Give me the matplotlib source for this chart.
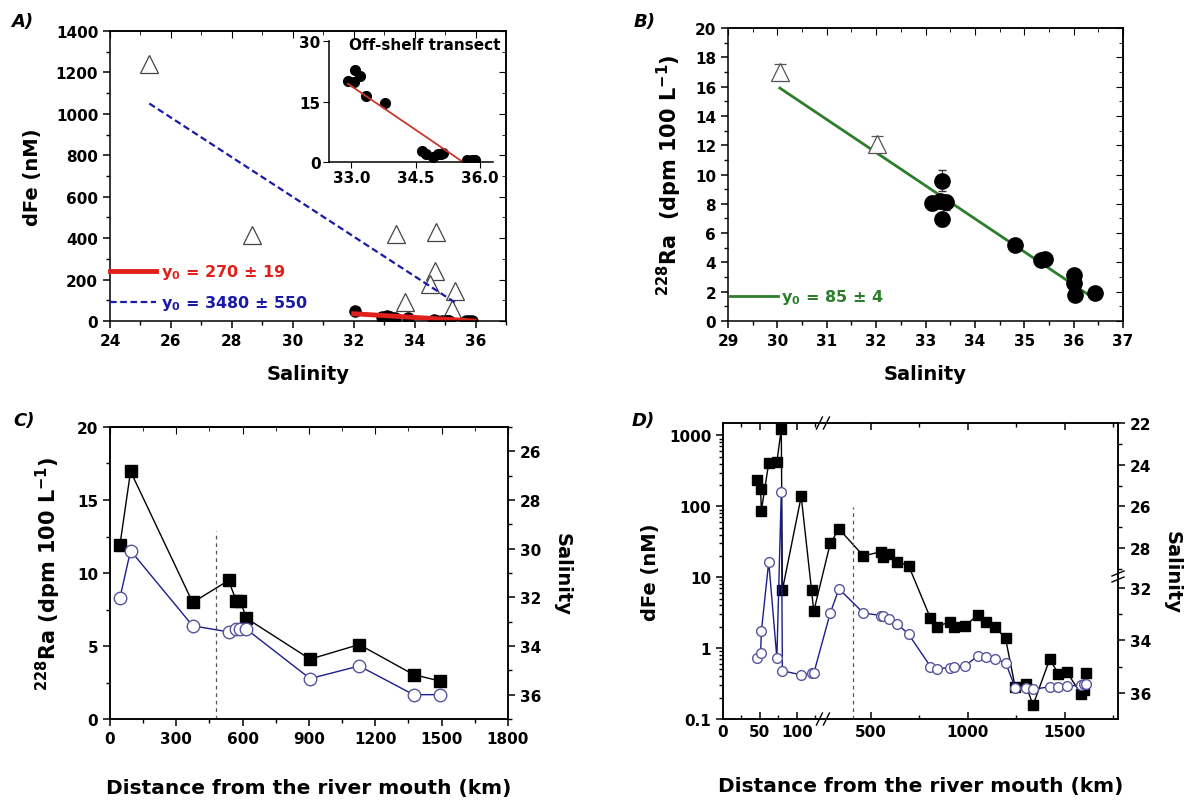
import numpy as np
import matplotlib.pyplot as plt
from matplotlib.ticker import MultipleLocator, FixedLocator, LogLocator, NullFormatter, FuncFormatter

plt.rcParams['font.family'] = ['DejaVu Sans']
plt.rcParams['font.weight'] = 'bold'
plt.rcParams['axes.labelweight'] = 'bold'
plt.rcParams['font.size'] = 11
plt.rcParams['mathtext.default'] = 'bf'
plt.rcParams['axes.linewidth'] = 1.1

# ---------------- data ----------------
# A) dFe vs salinity, shelf (triangles) and off-shelf transect (dots)
a_tri_sal = [25.29, 28.66, 33.39, 34.71, 34.68, 34.51, 33.69, 35.32, 35.23]
a_tri_fe = [1239, 413, 421, 429, 241, 177, 92, 143, 59]
a_off_sal = [32.05, 32.92, 33.06, 33.08, 33.2, 33.35, 33.78, 34.64, 34.75, 34.9,
             35.03, 35.13, 35.08, 35.7, 35.8, 35.88]
a_off_fe = [47, 20.2, 19.8, 22.7, 21.3, 16.4, 14.7, 2.7, 2.0, 1.3,
            2.1, 2.3, 1.9, 0.4, 0.4, 0.6]
a_fit_red_x = [32.0, 35.95]
a_fit_red_y = [35, 0]
a_fit_blue_x = [25.29, 35.34]
a_fit_blue_y = [1050, 88]
a_inset_fit_x = [32.92, 35.6]
a_inset_fit_y = [19.4, 0]

# B) 228Ra vs salinity
b_tri_sal = [30.06, 32.01]
b_tri_ra = [17.03, 12.09]
b_tri_err = [0.5, 0.55]
b_sal = [33.14, 33.33, 33.33, 33.3, 33.42, 34.81, 35.33, 35.42, 36.01, 36.01, 36.03, 36.44]
b_ra = [8.05, 9.58, 6.96, 8.2, 8.1, 5.2, 4.17, 4.22, 3.15, 2.62, 1.8, 1.89]
b_err = [0.5, 0.7, 0.45, 0.5, 0.5, 0.2, 0.2, 0.2, 0.2, 0.2, 0.2, 0.2]
b_fit_x = [30.05, 36.43]
b_fit_y = [15.9, 1.5]

# C) 228Ra and salinity along the shelf
c_dist = [45, 93, 374, 536, 572, 590, 617, 905, 1127, 1373, 1492]
c_ra = [11.93, 16.96, 7.98, 9.49, 8.07, 8.07, 6.9, 4.1, 5.1, 3.04, 2.6]
c_sal = [32.02, 30.08, 33.17, 33.42, 33.31, 33.31, 33.31, 35.34, 34.82, 36.0, 36.0]
c_front_km, c_front_top = 480, 12.9

# D) dFe and salinity along the shelf
d_dist = [46, 51, 52, 62, 73, 79, 80.5, 106, 120, 123,
          291, 336, 462, 555, 562, 592, 636, 695,
          808, 840, 908, 928, 987, 1051, 1096, 1141, 1195,
          1245, 1298, 1337, 1423, 1468, 1512, 1585, 1602, 1612]
d_fe = [237, 173, 87, 411, 421, 1240, 6.6, 138, 6.6, 3.3,
        30, 48, 20, 23, 19.5, 21.5, 16.6, 14.6,
        2.64, 2.0, 2.36, 2.0, 2.07, 2.93, 2.31, 2.0, 1.37,
        0.28, 0.31, 0.157, 0.70, 0.43, 0.455, 0.225, 0.26, 0.45]
d_sal = [34.66, 34.49, 33.66, 28.65, 34.68, 25.3, 35.16, 35.32, 35.26, 35.26,
         32.96, 32.04, 32.96, 33.06, 33.09, 33.19, 33.37, 33.77,
         35.0, 35.09, 35.04, 35.0, 34.97, 34.6, 34.62, 34.72, 34.85,
         35.81, 35.81, 35.87, 35.77, 35.77, 35.75, 35.71, 35.68, 35.68]
d_front_km, d_front_top = 408, 98

# broken-axis mappings for panel D
XB = [-1000, 0, 135, 255, 5000]
XP = [-2220, 0, 300, 302, 302 + 4745 * 0.584]
SB = [0, 22, 29.35, 31.58, 37, 60]
SP = [-22 * 20.72, 0, 152.3, 152.8, 152.8 + 5.42 * 26.08, 152.8 + 28.42 * 26.08]


def x_fwd(x):
    return np.interp(x, XB, XP)


def x_inv(p):
    return np.interp(p, XP, XB)


def s_fwd(s):
    return np.interp(s, SB, SP)


def s_inv(p):
    return np.interp(p, SP, SB)


black = 'black'
navy = '#1c1c8a'
ring = '#56569c'


def mirror(ax, xmaj, xmin, ymaj=None, ymin=None):
    top = ax.secondary_xaxis('top')
    top.xaxis.set_major_locator(MultipleLocator(xmaj))
    top.xaxis.set_minor_locator(MultipleLocator(xmin))
    top.tick_params(which='both', direction='in', labeltop=False)
    top.tick_params(which='major', length=5)
    top.tick_params(which='minor', length=3)
    if ymaj is not None:
        right = ax.secondary_yaxis('right')
        right.yaxis.set_major_locator(MultipleLocator(ymaj))
        right.yaxis.set_minor_locator(MultipleLocator(ymin))
        right.tick_params(which='both', direction='in', labelright=False)
        right.tick_params(which='major', length=5)
        right.tick_params(which='minor', length=3)


def base_ticks(ax):
    ax.tick_params(which='both', direction='out')
    ax.tick_params(which='major', length=5, width=1.1)
    ax.tick_params(which='minor', length=3, width=1)


fig = plt.figure(figsize=(11.92, 8.03), dpi=100)
axA = fig.add_axes([0.09228, 0.59900, 0.33221, 0.36115])
axB = fig.add_axes([0.61074, 0.59900, 0.33138, 0.36488])
axC = fig.add_axes([0.09228, 0.10336, 0.33389, 0.36364])
axD = fig.add_axes([0.60654, 0.10336, 0.33138, 0.36862])
axIn = fig.add_axes([0.27601, 0.79701, 0.13758, 0.15068])

# ---------- A ----------
axA.plot(a_tri_sal, a_tri_fe, ls='none', marker='^', ms=13, mfc='white', mec='#444444', mew=0.9)
blue_line, = axA.plot(a_fit_blue_x, a_fit_blue_y, color='#1a1aa8', lw=1.6, ls=(0, (3, 1.6)),
                      label='y$_0$ = 3480 ± 550')
axA.plot(a_off_sal, a_off_fe, 'o', color=black, ms=8)
red_line, = axA.plot(a_fit_red_x, a_fit_red_y, color='#e0201c', lw=3.5, label='y$_0$ = 270 ± 19')
axA.set_xlim(24, 37)
axA.set_ylim(0, 1400)
axA.xaxis.set_major_locator(MultipleLocator(2))
axA.xaxis.set_minor_locator(MultipleLocator(1))
axA.yaxis.set_major_locator(MultipleLocator(200))
axA.yaxis.set_minor_locator(MultipleLocator(100))
base_ticks(axA)
mirror(axA, 2, 1, 200, 100)
axA.set_xlabel('Salinity', fontsize=14, labelpad=12)
axA.set_ylabel('dFe (nM)', fontsize=14, labelpad=10)
axA.legend(handles=[red_line, blue_line], loc='lower left', bbox_to_anchor=(0.0, 0.03),
           frameon=False, fontsize=11.5, handlelength=2.9, handletextpad=0.3,
           labelspacing=0.75, borderpad=0, borderaxespad=0, labelcolor='linecolor')

# inset
axIn.patch.set_alpha(0)
axIn.plot(a_off_sal, a_off_fe, 'o', color=black, ms=7)
axIn.plot(a_inset_fit_x, a_inset_fit_y, color='#c8372d', lw=1.3)
axIn.set_xlim(32.48, 36.3)
axIn.set_ylim(0, 30)
axIn.set_xticks([33.0, 34.5, 36.0])
axIn.xaxis.set_major_formatter(FuncFormatter(lambda v, p: '%.1f' % v))
axIn.set_yticks([0, 15, 30])
axIn.spines['top'].set_visible(False)
axIn.spines['right'].set_visible(False)
axIn.tick_params(direction='out', length=4, pad=2)
axIn.text(0.12, 0.97, 'Off-shelf transect', transform=axIn.transAxes, fontsize=11,
          ha='left', va='center')

# ---------- B ----------
axB.errorbar(b_tri_sal, b_tri_ra, yerr=b_tri_err, fmt='^', ms=13, mfc='white', mec='#555555',
             mew=0.9, ecolor='#555555', elinewidth=0.8, capsize=4)
axB.errorbar(b_sal, b_ra, yerr=b_err, fmt='o', ms=11, color=black, ecolor='#333333',
             elinewidth=0.8, capsize=3)
green_line, = axB.plot(b_fit_x, b_fit_y, color='#2d7d2d', lw=2, label='y$_0$ = 85 ± 4')
axB.set_xlim(29, 37)
axB.set_ylim(0, 20)
axB.xaxis.set_major_locator(MultipleLocator(1))
axB.xaxis.set_minor_locator(MultipleLocator(0.5))
axB.yaxis.set_major_locator(MultipleLocator(2))
axB.yaxis.set_minor_locator(MultipleLocator(1))
base_ticks(axB)
mirror(axB, 1, 0.5, 2, 1)
axB.set_xlabel('Salinity', fontsize=14, labelpad=12)
axB.set_ylabel('$^{228}$Ra  (dpm 100 L$^{-1}$)', fontsize=15, labelpad=8)
axB.legend(handles=[green_line], loc='center left', bbox_to_anchor=(0.005, 0.082),
           frameon=False, fontsize=11.5, handlelength=3.0, handletextpad=0.2,
           borderpad=0, borderaxespad=0, labelcolor='linecolor')

# ---------- C ----------
axC.plot(c_dist, c_ra, '-s', color=black, lw=1, ms=8.5)
axC.plot([c_front_km, c_front_km], [0, c_front_top], ls=(0, (3, 3)), color='#555555', lw=0.9)
axC.set_xlim(0, 1800)
axC.set_ylim(0, 20)
axC.xaxis.set_major_locator(MultipleLocator(300))
axC.xaxis.set_minor_locator(MultipleLocator(150))
axC.yaxis.set_major_locator(MultipleLocator(5))
axC.yaxis.set_minor_locator(MultipleLocator(2.5))
base_ticks(axC)
mirror(axC, 300, 150)
axC.set_xlabel('Distance from the river mouth (km)', fontsize=14.5, labelpad=23)
axC.set_ylabel('$^{228}$Ra (dpm 100 L$^{-1}$)', fontsize=15, labelpad=10)
axC2 = axC.twinx()
axC2.plot(c_dist, c_sal, '-o', color=navy, lw=1, ms=9, mfc='white', mec=ring, mew=1)
axC2.set_ylim(37, 25)
axC2.yaxis.set_major_locator(MultipleLocator(2))
axC2.yaxis.set_minor_locator(MultipleLocator(1))
base_ticks(axC2)
axC2.set_ylabel('Salinity', fontsize=14, rotation=270, labelpad=22)

# ---------- D ----------
axD.set_xscale('function', functions=(x_fwd, x_inv))
axD.set_yscale('log')
axD.plot(d_dist, d_fe, '-s', color=black, lw=1, ms=7)
axD.plot([d_front_km, d_front_km], [0.1, d_front_top], ls=(0, (3, 3)), color='#555555', lw=0.9)
axD.set_xlim(0, 1775)
axD.set_ylim(0.1, 1500)
axD.xaxis.set_major_locator(FixedLocator([0, 50, 100, 500, 1000, 1500]))
axD.xaxis.set_minor_locator(FixedLocator([25, 75, 125, 750, 1250, 1750]))
axD.xaxis.set_major_formatter(FuncFormatter(lambda v, p: '%g' % v))
axD.xaxis.set_minor_formatter(NullFormatter())
axD.yaxis.set_major_locator(LogLocator(base=10))
axD.yaxis.set_minor_locator(LogLocator(base=10, subs=np.arange(2, 10)))
axD.yaxis.set_major_formatter(FuncFormatter(lambda v, p: '%g' % v))
axD.yaxis.set_minor_formatter(NullFormatter())
axD.tick_params(axis='y', which='both', direction='out')
axD.tick_params(axis='x', which='both', direction='in', top=True)
axD.tick_params(which='major', length=5, width=1.1)
axD.tick_params(which='minor', length=3, width=1)
axD.set_xlabel('Distance from the river mouth (km)', fontsize=14.5, labelpad=27)
axD.set_ylabel('dFe (nM)', fontsize=14, labelpad=6)
axD2 = axD.twinx()
axD2.set_yscale('function', functions=(s_fwd, s_inv))
axD2.plot(d_dist, d_sal, '-o', color=navy, lw=1, ms=7, mfc='white', mec=ring, mew=1)
axD2.set_ylim(37, 22)
axD2.yaxis.set_major_locator(FixedLocator([22, 24, 26, 28, 32, 34, 36]))
axD2.yaxis.set_minor_locator(FixedLocator([23, 25, 27, 29, 33, 35]))
axD2.yaxis.set_major_formatter(FuncFormatter(lambda v, p: '%g' % v))
axD2.yaxis.set_minor_formatter(NullFormatter())
base_ticks(axD2)
axD2.set_ylabel('Salinity', fontsize=14, rotation=270, labelpad=22)

# axis break marks
x0, x1 = x_fwd(0), x_fwd(1775)
xf = (x_fwd(195) - x0) / (x1 - x0)
s0, s1 = s_fwd(37), s_fwd(22)
yf = (s_fwd(30.4) - s0) / (s1 - s0)
px, py = 1 / 395, 1 / 296
for yb in (0, 1):
    for off in (-3.5, 3.5):
        axD.plot([xf + (off - 3) * px, xf + (off + 3) * px], [yb - 6 * py, yb + 6 * py],
                 color=black, lw=1, transform=axD.transAxes, clip_on=False)
for off in (-3, 3):
    axD.plot([1 - 6 * px, 1 + 6 * px], [yf + (off - 2.5) * py, yf + (off + 2.5) * py],
             color=black, lw=1, transform=axD.transAxes, clip_on=False)

# panel letters
for lbl, fx, fy in (('A)', 0.0185, 0.9726), ('B)', 0.541, 0.9726),
                    ('C)', 0.020, 0.4757), ('D)', 0.540, 0.4757)):
    fig.text(fx, fy, lbl, fontsize=13, fontstyle='italic', ha='center', va='center')

fig.savefig('out.png', dpi=100)
